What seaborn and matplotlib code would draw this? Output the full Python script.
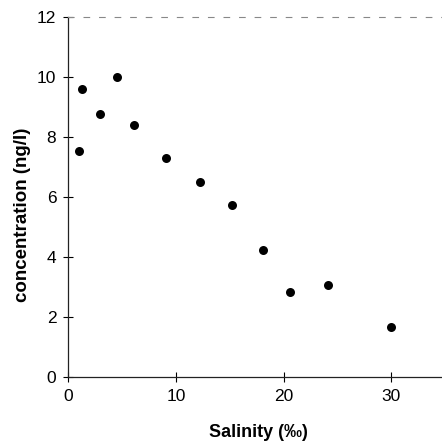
"""Concentration vs salinity scatter."""
from matplotlib import pyplot as plt
import pandas as pd
import seaborn as sns

salinity = [1.0, 1.3, 3.0, 4.5, 6.1, 9.1, 12.2, 15.2, 18.1, 20.6, 24.1, 30.0]
concentration = [7.52, 9.6, 8.77, 10.0, 8.41, 7.31, 6.5, 5.73, 4.23, 2.83, 3.07, 1.67]
x_ticks = [0, 10, 20, 30]
y_ticks = [0, 2, 4, 6, 8, 10, 12]

df = pd.DataFrame({"salinity": salinity, "concentration": concentration})

sns.set_style("white")
plt.rcParams["font.family"] = ["Liberation Sans", "DejaVu Sans"]

fig = plt.figure(figsize=(4.42, 4.44), dpi=100)
ax = fig.add_axes([0.154, 0.151, 0.846, 0.811])
sns.scatterplot(data=df, x="salinity", y="concentration", ax=ax,
                color="black", s=42, edgecolor="black", linewidth=0)

ax.set_xlim(0, 34.7)
ax.set_ylim(0, 12)
ax.set_xticks(x_ticks)
ax.set_yticks(y_ticks)
ax.tick_params(bottom=True, left=True, direction="inout", length=7,
               width=0.8, labelsize=12.5, colors="black", pad=5)

for side in ["left", "bottom"]:
    ax.spines[side].set_color("#222222")
    ax.spines[side].set_linewidth(0.9)
ax.spines["right"].set_visible(False)
ax.spines["top"].set_color("#888888")
ax.spines["top"].set_linewidth(0.8)
ax.spines["top"].set_linestyle((0, (5, 9)))

ax.set_xlabel("Salinity (‰)", fontsize=13, fontweight="bold", color="black")
ax.set_ylabel("concentration (ng/l)", fontsize=13.5, fontweight="bold",
              color="black")
ax.xaxis.set_label_coords(0.51, -0.13)
ax.yaxis.set_label_coords(-0.1, 0.45)

fig.savefig("out.png", dpi=100)
